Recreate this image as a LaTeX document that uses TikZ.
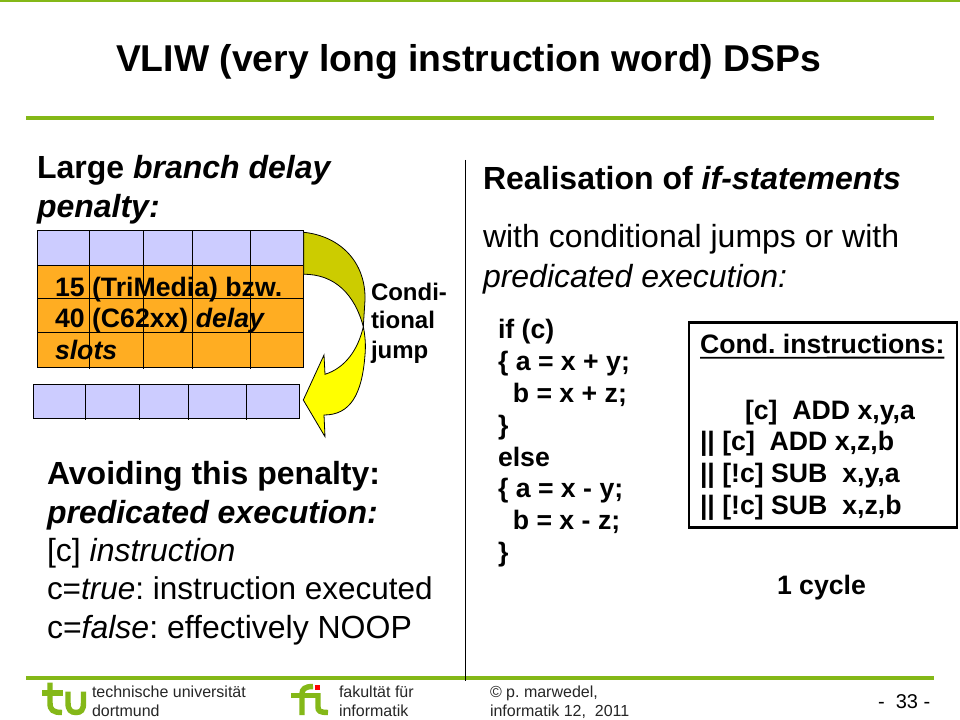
\documentclass[tikz,border=0pt]{standalone}
\usepackage{fontspec}
\setmainfont{Liberation Sans}
\definecolor{tugreen}{HTML}{84B818}
\definecolor{lilac}{HTML}{CCCCFF}
\definecolor{slotorange}{HTML}{FFAD22}
\definecolor{darkolive}{HTML}{CCCC00}
\definecolor{brightyellow}{HTML}{FFFF00}
\newcommand{\fsz}[1]{\fontsize{#1}{#1}\selectfont\frenchspacing}
\tikzset{
  lab/.style={anchor=base west,inner sep=0pt,outer sep=0pt,text=black},
  titletext/.style={lab,font=\fsz{28}\bfseries},
  headtext/.style={lab,font=\fsz{24}\bfseries},
  bodytext/.style={lab,font=\fsz{24}},
  smallbold/.style={lab,font=\fsz{20}\bfseries},
  foot/.style={lab,font=\fsz{12},text=black!85},
  rule/.style={draw=tugreen,line width=3pt},
  grid/.style={draw=black,line width=0.9pt},
  logo/.style={tugreen,line width=4.1pt},
}
\begin{document}
\begin{tikzpicture}[x=0.75pt,y=-0.75pt]
\useasboundingbox (0,0) rectangle (960,720);
\fill[white] (0,0) rectangle (960,720);
\fill[tugreen] (0,0) rectangle (960,2);
\draw[rule] (26,118) -- (934,118);
\draw[rule] (26,678) -- (934,678);
\draw[black,line width=0.9pt] (465.5,160) -- (465.5,681);
\node[titletext] (title) at (116,72) {VLIW (very long instruction word) DSPs};
\node[headtext] (l1) at (37,178.5) {Large \textit{branch delay}};
\node[headtext] (l2) at (37,218) {\textit{penalty:}};
% upper grid
\fill[lilac] (37.3,230.3) rectangle (303.7,265.3);
\fill[slotorange] (37.3,265.3) rectangle (303.7,367.7);
\draw[grid] (37.3,230.3) rectangle (303.7,367.7);
\foreach \y in {265.3,298.7,332.3} \draw[grid] (37.3,\y) -- (303.7,\y);
\foreach \x in {89.3,143.3,192.3,250.3} \draw[grid] (\x,230.3) -- (\x,368.5);
% lower grid
\fill[lilac] (33.3,384.3) rectangle (299.3,418.7);
\draw[grid] (33.3,384.3) rectangle (299.3,418.7);
\foreach \x in {85.3,139.3,188.3,246.7} \draw[grid] (\x,384.3) -- (\x,419.5);
% curved arrow
\draw[black,line width=0.6pt,fill=darkolive] (303.7,232.3)
  .. controls (340,236) and (366,262) .. (365,300)
  -- (363.3,326.7)
  .. controls (355,295) and (335,274) .. (303.7,274.3) -- cycle;
\draw[black,line width=0.6pt,fill=brightyellow] (363.3,326.7)
  .. controls (365,335) and (366,345) .. (365,355)
  .. controls (362,395) and (350,415) .. (324,415)
  -- (325,436.7) -- (303.3,400) -- (324,355) -- (325,374.3)
  .. controls (345,368) and (358,350) .. cycle;
\node[lab,font=\fsz{20}\bfseries] (o1) at (55,296.5) {15 (TriMedia) bzw.};
\node[lab,font=\fsz{20}\bfseries] (o2) at (55,327) {40 (C62xx) \textit{delay}};
\node[lab,font=\fsz{20}\bfseries] (o3) at (55,359) {\textit{slots}};
\node[lab,font=\fsz{18}\bfseries] (j1) at (371,300.5) {Condi-};
\node[lab,font=\fsz{18}\bfseries] (j2) at (371,329) {tional};
\node[lab,font=\fsz{18}\bfseries] (j3) at (371,358.5) {jump};
\node[headtext] (a1) at (47,484) {Avoiding this penalty:};
\node[headtext] (a2) at (47,523) {\textit{predicated execution:}};
\node[bodytext] (a3) at (47,561) {[c] \textit{instruction}};
\node[lab,font=\fsz{23.6}] (a4) at (47,599) {c=\textit{true}: instruction executed};
\node[bodytext] (a5) at (47,638) {c=\textit{false}: effectively NOOP};
\node[headtext] (r1) at (483,189.5) {Realisation of \textit{if-statements}};
\node[bodytext] (r2) at (483,247.5) {with conditional jumps or with};
\node[bodytext] (r3) at (483,287.5) {\textit{predicated execution:}};
\node[smallbold] (c1) at (498,338) {if (c)};
\node[smallbold] (c2) at (498,370) {\{ a = x + y;};
\node[smallbold] (c3) at (498,402) {\ \ b = x + z;};
\node[smallbold] (c4) at (498,434) {\}};
\node[smallbold] (c5) at (498,466) {else};
\node[smallbold] (c6) at (498,497) {\{ a = x - y;};
\node[smallbold] (c7) at (498,529) {\ \ b = x - z;};
\node[smallbold] (c8) at (498,561) {\}};
\draw[black,line width=2.2pt] (689,322.5) rectangle (957,527.5);
\node[smallbold] (b1) at (700,353) {Cond. instructions:};
\draw[black,line width=1.4pt] (b1.base west)++(0,4.7) -- ([yshift=-3.5pt]b1.base east);
\node[smallbold] (b2) at (745,419) {[c]\ \ ADD x,y,a};
\node[smallbold] (b3) at (700,450) {|| [c]\ \ ADD x,z,b};
\node[smallbold] (b4) at (700,482) {|| [!c] SUB\ \ x,y,a};
\node[smallbold] (b5) at (700,514) {|| [!c] SUB\ \ x,z,b};
\node[smallbold] (cy) at (777,594) {1 cycle};
% footer
\node[foot] (f1) at (92,697) {technische universität};
\node[foot] (f2) at (92,716) {dortmund};
\node[foot] (f3) at (339,697) {fakultät für};
\node[foot] (f4) at (339,716) {informatik};
\node[foot] (f5) at (490,697) {© p. marwedel,};
\node[foot] (f6) at (490,716) {informatik 12,\ \ 2011};
\node[lab,font=\fsz{15}] (pg) at (878,708) {-\ \ 33\ -};
% tu logo
\draw[logo] (50,682.5) -- (50,703) .. controls (50,710) and (53,712.5) .. (62,712.5);
\draw[logo] (42,693) -- (63,693);
\draw[logo] (68,691.5) -- (68,703) .. controls (68,710) and (71,712.5) .. (76,712.5) .. controls (81,712.5) and (83.5,710) .. (83.5,703) -- (83.5,691.5);
% fi logo
\draw[logo] (291,695.5) -- (317,695.5);
\draw[logo] (302,715) -- (302,694) .. controls (302,689) and (305,686.5) .. (313,686.5);
\draw[logo] (318,693) -- (318,707) .. controls (318,711) and (320,712.5) .. (328,712.5);
\fill[red] (315,685) rectangle (319.5,689.5);
\end{tikzpicture}
\end{document}
